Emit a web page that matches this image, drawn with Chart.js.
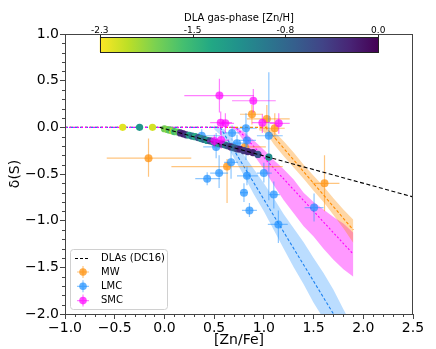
<!DOCTYPE html>
<html>
<head>
<meta charset="utf-8">
<script src="https://cdn.jsdelivr.net/npm/chart.js@4.4.1/dist/chart.umd.min.js"></script>
<style>
html, body { margin: 0; padding: 0; background: #fff; }
</style>
</head>
<body>
<canvas id="chart" width="436" height="349"></canvas>
<script>
// ===== Datos =====
const cbarLabels = ['-2.3', '-1.5', '-0.8', '0.0'];
const cbarMin = -2.3, cbarMax = 0.0;

// DLAs (DC16), coloreados por [Zn/H]
const dlaX   = [-0.42, -0.25, -0.12, 0.00, 0.03, 0.05, 0.08, 0.10, 0.13, 0.16, 0.19, 0.22, 0.25, 0.28, 0.31, 0.34, 0.37, 0.40, 0.43, 0.46, 0.49, 0.52, 0.55, 0.58, 0.61, 0.64, 0.67, 0.70, 0.73, 0.76, 0.80, 0.84, 0.89, 0.94, 1.05];
const dlaY   = [0.00, 0.00, 0.00, -0.015, -0.023, -0.03, -0.04, -0.045, -0.05, -0.06, -0.07, -0.08, -0.085, -0.095, -0.10, -0.11, -0.12, -0.13, -0.14, -0.145, -0.155, -0.165, -0.175, -0.18, -0.19, -0.20, -0.21, -0.22, -0.23, -0.235, -0.25, -0.26, -0.27, -0.29, -0.32];
const dlaZnH = [-2.2, -1.2, -2.15, -1.8, -1.9, -1.7, -2.0, -1.6, -1.75, -0.3, -0.2, -0.35, -1.3, -0.9, -1.4, -0.6, -1.1, -0.8, -1.2, -0.5, -1.0, -0.7, -1.3, -0.4, -0.9, -0.6, -0.3, -0.8, -0.5, -0.2, -0.4, -0.3, -0.2, -0.6, -1.1];

// Relacion DC16
const dc16X = [-0.05, 2.5];
const dc16Y = [0.0, -0.745];

// MW
const mwX   = [-0.16, 0.63, 0.88, 1.03, 1.11, 0.81, 1.61];
const mwY   = [-0.33, -0.42, 0.14, 0.09, -0.01, -0.21, -0.60];
const mwXlo = [-0.58, 0.07, 0.76, 0.83, 0.96, 0.66, 1.49];
const mwXhi = [0.27, 1.19, 0.99, 1.26, 1.21, 1.02, 1.76];
const mwYlo = [-0.53, -0.81, 0.03, -0.03, -0.12, -0.25, -0.90];
const mwYhi = [-0.12, -0.34, 0.24, 0.24, 0.15, -0.17, -0.30];

// LMC
const lmcX   = [0.375, 0.52, 0.68, 0.73, 0.82, 0.83, 1.05, 0.67, 0.55, 0.43, 0.83, 1.00, 0.80, 1.10, 0.855, 1.146, 1.505];
const lmcY   = [-0.09, -0.21, -0.06, -0.17, -0.01, -0.14, -0.09, -0.375, -0.49, -0.55, -0.52, -0.49, -0.70, -0.72, -0.89, -1.04, -0.86];
const lmcXlo = [0.19, 0.39, 0.60, 0.66, 0.72, 0.75, 0.93, 0.60, 0.46, 0.31, 0.73, 0.93, 0.76, 1.05, 0.78, 1.04, 1.41];
const lmcXhi = [0.56, 0.63, 0.76, 0.80, 0.93, 0.92, 1.19, 0.74, 0.64, 0.56, 0.94, 1.08, 0.84, 1.16, 0.93, 1.24, 1.60];
const lmcYlo = [-0.16, -0.33, -0.14, -0.25, -0.35, -0.22, -0.78, -0.55, -0.65, -0.62, -0.62, -0.59, -0.80, -0.87, -0.96, -1.24, -1.01];
const lmcYhi = [-0.02, -0.06, 0.02, -0.08, 0.15, -0.05, 0.59, -0.20, -0.30, -0.48, -0.42, -0.38, -0.60, -0.58, -0.81, -0.89, -0.71];

// SMC
const smcX   = [0.553, 0.894, 0.566, 0.613, 0.985, 1.15, 0.502, 0.57];
const smcY   = [0.34, 0.285, 0.05, 0.043, 0.05, 0.043, -0.147, -0.136];
const smcXlo = [0.20, 0.68, 0.46, 0.55, 0.88, 1.06, 0.43, 0.50];
const smcXhi = [0.90, 1.12, 0.68, 0.70, 1.11, 1.26, 0.57, 0.65];
const smcYlo = [0.16, 0.16, -0.08, -0.06, -0.06, -0.07, -0.21, -0.23];
const smcYhi = [0.52, 0.41, 0.17, 0.15, 0.14, 0.15, -0.08, -0.04];

// Ajustes (linea discontinua) por muestra
const mwFitX  = [-1.0, 1.02, 1.9];
const mwFitY  = [0.0, 0.0, -1.10];
const lmcFitX = [-1.0, 0.56, 1.9];
const lmcFitY = [0.0, 0.0, -2.35];
const smcFitX = [-1.0, 0.72, 1.9];
const smcFitY = [0.0, 0.0, -1.36];

// Bandas de incertidumbre
const mwBandX  = [0.95, 1.00, 1.05, 1.10, 1.20, 1.30, 1.40, 1.50, 1.60, 1.70, 1.80, 1.90];
const mwBandHi = [0.03, 0.03, 0.00, -0.04, -0.15, -0.27, -0.40, -0.52, -0.63, -0.76, -0.88, -0.99];
const mwBandLo = [-0.03, -0.05, -0.10, -0.18, -0.31, -0.43, -0.55, -0.68, -0.80, -0.94, -1.08, -1.24];

const lmcBandX  = [0.50, 0.60, 0.70, 0.80, 0.90, 1.00, 1.10, 1.20, 1.30, 1.40, 1.50, 1.60, 1.70, 1.80, 1.90];
const lmcBandHi = [0.02, -0.02, -0.15, -0.30, -0.45, -0.60, -0.76, -0.93, -1.08, -1.23, -1.40, -1.56, -1.74, -1.95, -2.15];
const lmcBandLo = [-0.02, -0.12, -0.33, -0.52, -0.72, -0.90, -1.10, -1.30, -1.50, -1.68, -1.88, -2.05, -2.25, -2.45, -2.65];

const smcBandX  = [0.68, 0.72, 0.80, 0.90, 1.00, 1.10, 1.20, 1.30, 1.40, 1.50, 1.60, 1.70, 1.80, 1.90];
const smcBandHi = [0.01, 0.00, -0.05, -0.14, -0.24, -0.35, -0.45, -0.56, -0.70, -0.80, -0.88, -0.96, -1.03, -1.13];
const smcBandLo = [-0.01, -0.03, -0.15, -0.30, -0.45, -0.62, -0.78, -0.92, -1.06, -1.17, -1.30, -1.42, -1.52, -1.60];

// ===== Colores =====
const C_MW = 'rgba(255,140,0,0.7)';
const C_LMC = 'rgba(30,144,255,0.7)';
const C_SMC = 'rgba(255,0,255,0.7)';
const E_MW = 'rgba(255,140,0,0.5)';
const E_LMC = 'rgba(30,144,255,0.5)';
const E_SMC = 'rgba(255,0,255,0.5)';
const FONT = "'DejaVu Sans', sans-serif";

const VIRIDIS = ['#440154', '#482475', '#414487', '#355f8d', '#2a788e', '#21918c', '#22a884', '#44bf70', '#7ad151', '#bddf26', '#fde725'];

function hexRgb(h) {
    return [parseInt(h.slice(1, 3), 16), parseInt(h.slice(3, 5), 16), parseInt(h.slice(5, 7), 16)];
}

function viridis(t) {
    t = Math.max(0, Math.min(1, t));
    const p = t * (VIRIDIS.length - 1);
    const i = Math.min(Math.floor(p), VIRIDIS.length - 2);
    const f = p - i;
    const a = hexRgb(VIRIDIS[i]), b = hexRgb(VIRIDIS[i + 1]);
    const c = a.map((v, k) => Math.round(v + (b[k] - v) * f));
    return `rgb(${c[0]},${c[1]},${c[2]})`;
}

// escala invertida: -2.3 amarillo, 0.0 morado
function colorZnH(v) {
    return viridis((cbarMax - v) / (cbarMax - cbarMin));
}

function pts(xs, ys) {
    return xs.map((x, i) => ({ x, y: ys[i] }));
}

function fmt(v) {
    const s = Math.abs(v) < 1e-9 ? '0.0' : v.toFixed(1);
    return s.replace('-', '\u2212');
}

// ===== Plugins =====
const errorBars = {
    id: 'errorBars',
    beforeDatasetDraw(chart, args) {
        const ds = chart.data.datasets[args.index];
        if (!ds.err) return;
        const { ctx, chartArea } = chart;
        const xs = chart.scales.x, ys = chart.scales.y;
        const e = ds.err;
        ctx.save();
        ctx.beginPath();
        ctx.rect(chartArea.left, chartArea.top, chartArea.right - chartArea.left, chartArea.bottom - chartArea.top);
        ctx.clip();
        ctx.strokeStyle = e.color;
        ctx.lineWidth = 1.2;
        ds.data.forEach((p, i) => {
            const px = xs.getPixelForValue(p.x), py = ys.getPixelForValue(p.y);
            ctx.beginPath();
            ctx.moveTo(xs.getPixelForValue(e.xlo[i]), py);
            ctx.lineTo(xs.getPixelForValue(e.xhi[i]), py);
            ctx.moveTo(px, ys.getPixelForValue(e.ylo[i]));
            ctx.lineTo(px, ys.getPixelForValue(e.yhi[i]));
            ctx.stroke();
        });
        ctx.restore();
    }
};

const frameAndTicks = {
    id: 'frameAndTicks',
    afterDraw(chart) {
        const { ctx, chartArea: a } = chart;
        const xs = chart.scales.x, ys = chart.scales.y;
        ctx.save();
        ctx.strokeStyle = '#444';
        ctx.lineWidth = 1;
        ctx.strokeRect(a.left + 0.5, a.top + 0.5, a.right - a.left - 1, a.bottom - a.top);
        // ticks menores cada 0.1
        ctx.beginPath();
        for (let k = -10; k <= 25; k++) {
            if (k % 5 === 0) continue;
            const px = Math.round(xs.getPixelForValue(k / 10)) + 0.5;
            ctx.moveTo(px, a.bottom);
            ctx.lineTo(px, a.bottom + 3);
        }
        for (let k = -20; k <= 10; k++) {
            if (k % 5 === 0) continue;
            const py = Math.round(ys.getPixelForValue(k / 10)) + 0.5;
            ctx.moveTo(a.left, py);
            ctx.lineTo(a.left - 3, py);
        }
        ctx.stroke();
        ctx.restore();
    }
};

const colorBar = {
    id: 'colorBar',
    afterDraw(chart) {
        const { ctx, chartArea: a } = chart;
        const w = a.right - a.left;
        const x0 = a.left + 0.1 * w, x1 = a.left + 0.9 * w;
        const y0 = a.top + 3, h = 15;
        ctx.save();
        const g = ctx.createLinearGradient(x0, 0, x1, 0);
        VIRIDIS.forEach((c, i) => g.addColorStop(1 - i / (VIRIDIS.length - 1), c));
        ctx.fillStyle = g;
        ctx.fillRect(x0, y0, x1 - x0, h);
        ctx.strokeStyle = '#222';
        ctx.lineWidth = 1;
        ctx.strokeRect(Math.round(x0) + 0.5, y0 + 0.5, Math.round(x1 - x0), h);
        ctx.fillStyle = '#000';
        ctx.font = `9px ${FONT}`;
        ctx.textAlign = 'center';
        ctx.textBaseline = 'alphabetic';
        cbarLabels.forEach((lab, i) => {
            const px = x0 + (x1 - x0) * i / (cbarLabels.length - 1);
            ctx.fillText(lab, px, y0 - 4);
            ctx.beginPath();
            ctx.moveTo(Math.round(px) + 0.5, y0);
            ctx.lineTo(Math.round(px) + 0.5, y0 - 2);
            ctx.stroke();
        });
        ctx.font = `10px ${FONT}`;
        ctx.fillText('DLA gas-phase [Zn/H]', (x0 + x1) / 2, y0 - 16);
        ctx.restore();
    }
};

const legendBox = {
    id: 'legendBox',
    afterDraw(chart) {
        const { ctx, chartArea: a } = chart;
        const bx = a.left + 5, by = a.bottom - 65, bw = 97, bh = 60;
        ctx.save();
        ctx.fillStyle = 'rgba(255,255,255,0.85)';
        ctx.strokeStyle = '#d0d0d0';
        ctx.lineWidth = 1;
        ctx.beginPath();
        ctx.roundRect(bx + 0.5, by + 0.5, bw, bh, 3);
        ctx.fill();
        ctx.stroke();
        ctx.font = `10px ${FONT}`;
        ctx.textBaseline = 'middle';
        ctx.fillStyle = '#000';
        // DLAs
        let yy = by + 9.5;
        ctx.strokeStyle = '#000';
        ctx.lineWidth = 1.2;
        ctx.setLineDash([3, 2]);
        ctx.beginPath();
        ctx.moveTo(bx + 5, yy);
        ctx.lineTo(bx + 19, yy);
        ctx.stroke();
        ctx.setLineDash([]);
        ctx.fillText('DLAs (DC16)', bx + 31, yy);
        const items = [['MW', C_MW, E_MW], ['LMC', C_LMC, E_LMC], ['SMC', C_SMC, E_SMC]];
        items.forEach(([lab, c, e], i) => {
            const cy = by + 23 + i * 14.3, cx = bx + 13;
            ctx.strokeStyle = e;
            ctx.lineWidth = 1.2;
            ctx.beginPath();
            ctx.moveTo(cx - 6, cy); ctx.lineTo(cx + 6, cy);
            ctx.moveTo(cx, cy - 6); ctx.lineTo(cx, cy + 6);
            ctx.stroke();
            ctx.fillStyle = c;
            ctx.beginPath();
            ctx.arc(cx, cy, 3.8, 0, Math.PI * 2);
            ctx.fill();
            ctx.fillStyle = '#000';
            ctx.fillText(lab, bx + 31, cy);
        });
        ctx.restore();
    }
};

// ===== Datasets =====
function bandPair(xs, hi, lo, color, order) {
    return [
        { data: pts(xs, hi), showLine: true, borderWidth: 0, pointRadius: 0, backgroundColor: color, fill: '+1', order, tension: 0 },
        { data: pts(xs, lo), showLine: true, borderWidth: 0, pointRadius: 0, backgroundColor: color, fill: false, order, tension: 0 }
    ];
}

function fitLine(xs, ys, color, dash, order) {
    return { data: pts(xs, ys), showLine: true, borderColor: color, borderWidth: 1.1, borderDash: dash, pointRadius: 0, fill: false, order };
}

function sample(xs, ys, c, e, xlo, xhi, ylo, yhi, order) {
    return {
        data: pts(xs, ys), showLine: false, pointRadius: 4, pointBackgroundColor: c, pointBorderWidth: 0,
        borderColor: c, order, err: { color: e, xlo, xhi, ylo, yhi }
    };
}

const datasets = [
    ...bandPair(mwBandX, mwBandHi, mwBandLo, 'rgba(255,140,0,0.35)', 20),
    ...bandPair(lmcBandX, lmcBandHi, lmcBandLo, 'rgba(30,144,255,0.3)', 21),
    ...bandPair(smcBandX, smcBandHi, smcBandLo, 'rgba(255,0,255,0.4)', 22),
    fitLine(mwFitX, mwFitY, 'rgba(255,140,0,1)', [3, 2], 12),
    fitLine(lmcFitX, lmcFitY, 'rgba(30,130,240,1)', [3, 2], 11),
    fitLine(smcFitX, smcFitY, 'rgba(255,0,255,1)', [2, 2], 10),
    sample(mwX, mwY, C_MW, E_MW, mwXlo, mwXhi, mwYlo, mwYhi, 8),
    sample(lmcX, lmcY, C_LMC, E_LMC, lmcXlo, lmcXhi, lmcYlo, lmcYhi, 7),
    {
        data: pts(dlaX, dlaY), showLine: false, pointRadius: 3.6, pointBorderWidth: 0,
        pointBackgroundColor: dlaZnH.map(colorZnH), order: 6
    },
    fitLine(dc16X, dc16Y, '#000', [4, 2.5], 5),
    sample(smcX, smcY, C_SMC, E_SMC, smcXlo, smcXhi, smcYlo, smcYhi, 4)
];

new Chart(document.getElementById('chart'), {
    type: 'scatter',
    data: { datasets },
    options: {
        responsive: false,
        animation: false,
        layout: { padding: { top: 34, right: 23, left: 0, bottom: 0 } },
        plugins: { legend: { display: false }, tooltip: { enabled: false } },
        scales: {
            x: {
                type: 'linear', min: -1.0, max: 2.5,
                afterFit: s => { s.height = 35; },
                ticks: { stepSize: 0.5, padding: 1, color: '#000', font: { family: FONT, size: 14 }, callback: fmt, maxRotation: 0 },
                grid: { drawOnChartArea: false, tickLength: 5, color: '#444' },
                border: { color: '#444' },
                title: { display: true, text: '[Zn/Fe]', color: '#000', font: { family: FONT, size: 14 }, padding: { top: 0, bottom: 0 } }
            },
            y: {
                type: 'linear', min: -2.0, max: 1.0,
                afterFit: s => { s.width = 65; },
                ticks: { stepSize: 0.5, padding: 1, color: '#000', font: { family: FONT, size: 14 }, callback: fmt },
                grid: { drawOnChartArea: false, tickLength: 5, color: '#444' },
                border: { color: '#444' },
                title: { display: true, text: '\u03b4(S)', color: '#000', font: { family: FONT, size: 14 }, padding: { top: 7, bottom: 0 } }
            }
        }
    },
    plugins: [errorBars, frameAndTicks, colorBar, legendBox]
});
</script>
</body>
</html>
